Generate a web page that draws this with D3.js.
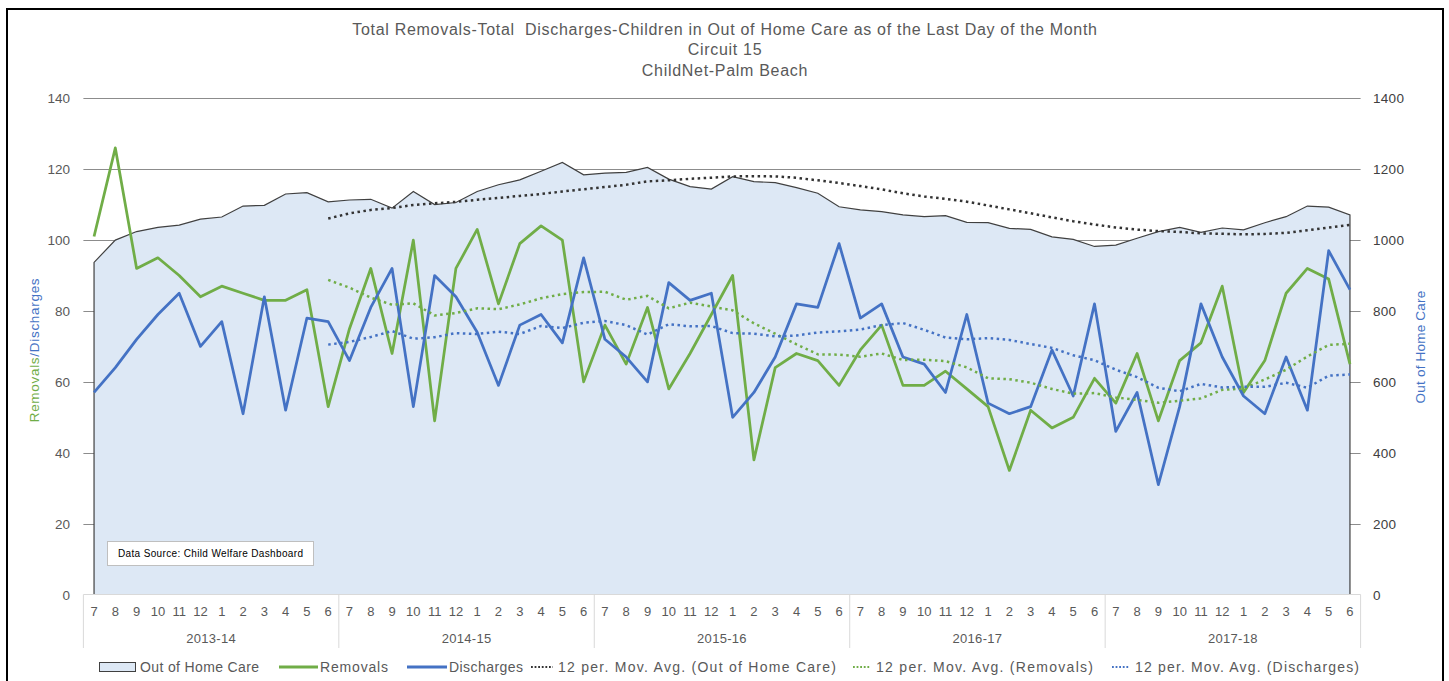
<!DOCTYPE html>
<html>
<head>
<meta charset="utf-8">
<script src="https://cdn.jsdelivr.net/npm/d3@7"></script>
<style>
  html, body { margin: 0; padding: 0; background: #ffffff; }
  svg { display: block; font-family: "Liberation Sans", Arial, sans-serif; }
  .title { white-space: pre; }
</style>
</head>
<body>
<svg id="chart" width="1449" height="681"></svg>
<script>
// Fiscal years and month labels for the category axis
const fiscalYears = ["2013-14", "2014-15", "2015-16", "2016-17", "2017-18"];
const monthLabels = ["7", "8", "9", "10", "11", "12", "1", "2", "3", "4", "5", "6"];

// Monthly totals, July 2013 through June 2018
const removals = [
  101, 126, 92, 95, 90, 84, 87, 85, 83, 83, 86, 53,
  75, 92, 68, 100, 49, 92, 103, 82, 99, 104, 100, 60,
  76, 65, 81, 58, 68, 79, 90, 38, 64, 68, 66, 59,
  69, 76, 59, 59, 63, 58, 53, 35, 52, 47, 50, 61,
  54, 68, 49, 66, 71, 87, 57, 66, 85, 92, 89, 65
];
const discharges = [
  57, 64, 72, 79, 85, 70, 77, 51, 84, 52, 78, 77,
  66, 81, 92, 53, 90, 84, 74, 59, 76, 79, 71, 95,
  72, 67, 60, 88, 83, 85, 50, 57, 67, 82, 81, 99,
  78, 82, 67, 65, 57, 79, 54, 51, 53, 69, 56, 82,
  46, 57, 31, 53, 82, 67, 56, 51, 67, 52, 97, 86
];
const outOfHomeCare = [
  937, 1000, 1024, 1036, 1042, 1059, 1065, 1096, 1098, 1130, 1134, 1108,
  1113, 1115, 1090, 1137, 1100, 1106, 1137, 1156, 1170, 1194, 1219, 1184,
  1189, 1191, 1205, 1172, 1151, 1144, 1179, 1165, 1162, 1148, 1132, 1094,
  1085, 1080, 1071, 1066, 1069, 1050, 1049, 1033, 1030, 1009, 1002, 982,
  986, 1005, 1024, 1036, 1022, 1034, 1029, 1049, 1066, 1096, 1093, 1071
];

// Axis ticks
const leftTicks = [0, 20, 40, 60, 80, 100, 120, 140];
const rightTicks = [0, 200, 400, 600, 800, 1000, 1200, 1400];

const titleLines = [
  "Total Removals-Total  Discharges-Children in Out of Home Care as of the Last Day of the Month",
  "Circuit 15",
  "ChildNet-Palm Beach"
];

const GREEN = "#70AD47", BLUE = "#4472C4", DARK = "#404040", TEXT = "#595959";
const AREA_FILL = "#DDE8F5";

// 12-period trailing moving average (null until a full window exists)
function movingAverage(values, period) {
  return values.map((v, i) => i < period - 1 ? null : d3.mean(values.slice(i - period + 1, i + 1)));
}

const svg = d3.select("#chart");

// Outer frame
svg.append("rect").attr("x", 7).attr("y", 9).attr("width", 1436).attr("height", 690)
  .attr("fill", "none").attr("stroke", "#000").attr("stroke-width", 2);

const plot = { left: 83.4, right: 1360.6, top: 98.3, bottom: 594.5 };
const n = removals.length;

const x = d3.scaleBand().domain(d3.range(n)).range([plot.left, plot.right]).paddingInner(0).paddingOuter(0);
const cx = i => x(i) + x.bandwidth() / 2;
const yL = d3.scaleLinear().domain([0, 140]).range([plot.bottom, plot.top]);
const yR = d3.scaleLinear().domain([0, 1400]).range([plot.bottom, plot.top]);

// Title
svg.append("g").selectAll("text").data(titleLines).join("text")
  .attr("class", "title")
  .attr("x", 725).attr("y", (d, i) => [35, 55, 76][i])
  .attr("text-anchor", "middle").attr("fill", TEXT).attr("font-size", 16)
  .attr("letter-spacing", 0.7)
  .text(d => d);

// Horizontal gridlines
svg.append("g").selectAll("line").data(leftTicks.filter(t => t > 0)).join("line")
  .attr("x1", plot.left).attr("x2", plot.right)
  .attr("y1", d => Math.round(yL(d)) + 0.5).attr("y2", d => Math.round(yL(d)) + 0.5)
  .attr("stroke", "#8C8C8C").attr("stroke-width", 1);

// Out of Home Care area (right axis)
const area = d3.area().x((d, i) => cx(i)).y0(yR(0)).y1(d => yR(d));
svg.append("path").datum(outOfHomeCare).attr("d", area).attr("fill", AREA_FILL);

// Area outline: both sides and the top edge
const outline = [[cx(0), yR(0)]].concat(outOfHomeCare.map((d, i) => [cx(i), yR(d)]), [[cx(n - 1), yR(0)]]);
svg.append("path").attr("d", d3.line()(outline))
  .attr("fill", "none").attr("stroke", DARK).attr("stroke-width", 1.2);

// Category axis line and year separators
svg.append("line").attr("x1", plot.left).attr("x2", plot.right)
  .attr("y1", plot.bottom).attr("y2", plot.bottom).attr("stroke", "#D9D9D9").attr("stroke-width", 1);
svg.append("g").selectAll("line").data(d3.range(fiscalYears.length + 1)).join("line")
  .attr("x1", k => k < fiscalYears.length ? x(k * 12) : plot.right)
  .attr("x2", k => k < fiscalYears.length ? x(k * 12) : plot.right)
  .attr("y1", plot.bottom).attr("y2", 648)
  .attr("stroke", "#D9D9D9").attr("stroke-width", 1);

// Month labels
svg.append("g").selectAll("text").data(d3.range(n)).join("text")
  .attr("x", i => cx(i)).attr("y", 616)
  .attr("text-anchor", "middle").attr("fill", TEXT).attr("font-size", 13)
  .text(i => monthLabels[i % 12]);

// Fiscal year labels
svg.append("g").selectAll("text").data(fiscalYears).join("text")
  .attr("x", (d, k) => (x(k * 12) + x(k * 12 + 11) + x.bandwidth()) / 2).attr("y", 643)
  .attr("text-anchor", "middle").attr("fill", TEXT).attr("font-size", 13)
  .attr("letter-spacing", 0.3)
  .text(d => d);

// Left axis labels
svg.append("g").selectAll("text").data(leftTicks).join("text")
  .attr("x", 70).attr("y", d => yL(d) + 5)
  .attr("text-anchor", "end").attr("fill", TEXT).attr("font-size", 13.5)
  .text(d => d);

// Right axis labels
svg.append("g").selectAll("text").data(rightTicks).join("text")
  .attr("x", 1373).attr("y", d => yR(d) + 5)
  .attr("text-anchor", "start").attr("fill", DARK).attr("font-size", 13.5)
  .attr("letter-spacing", 0.3)
  .text(d => d);

// Axis titles
const lt = svg.append("text").attr("transform", "translate(39,350) rotate(-90)")
  .attr("text-anchor", "middle").attr("font-size", 13.5).attr("letter-spacing", 0.7);
lt.append("tspan").attr("fill", GREEN).text("Removals");
lt.append("tspan").attr("fill", BLUE).text("/Discharges");

svg.append("text").attr("transform", "translate(1425,347) rotate(-90)")
  .attr("text-anchor", "middle").attr("font-size", 13.5).attr("fill", BLUE)
  .attr("letter-spacing", 0.2)
  .text("Out of Home Care");

// Series lines
const lineL = d3.line().x((d, i) => cx(i)).y(d => yL(d));
svg.append("path").datum(removals).attr("d", lineL)
  .attr("fill", "none").attr("stroke", GREEN).attr("stroke-width", 2.75).attr("stroke-linejoin", "round");
svg.append("path").datum(discharges).attr("d", lineL)
  .attr("fill", "none").attr("stroke", BLUE).attr("stroke-width", 2.75).attr("stroke-linejoin", "round");

// Moving average trendlines
const maLine = scale => d3.line().defined(d => d !== null).x((d, i) => cx(i)).y(d => scale(d));
const maStyle = [
  { values: movingAverage(outOfHomeCare, 12), scale: yR, color: "#333333" },
  { values: movingAverage(removals, 12), scale: yL, color: GREEN },
  { values: movingAverage(discharges, 12), scale: yL, color: BLUE }
];
maStyle.forEach(m => {
  svg.append("path").datum(m.values).attr("d", maLine(m.scale))
    .attr("fill", "none").attr("stroke", m.color).attr("stroke-width", 2.5)
    .attr("stroke-dasharray", "2.5 3.5");
});

// Data source note
svg.append("rect").attr("x", 107.5).attr("y", 541.5).attr("width", 206).attr("height", 24)
  .attr("fill", "#fff").attr("stroke", "#BFBFBF").attr("stroke-width", 1);
svg.append("text").attr("x", 118).attr("y", 557).attr("font-size", 10).attr("fill", "#000")
  .attr("textLength", 185).attr("lengthAdjust", "spacing")
  .text("Data Source: Child Welfare Dashboard");

// Legend
const legendY = 667;
const lg = svg.append("g");
lg.append("rect").attr("x", 99.5).attr("y", 662.5).attr("width", 36).attr("height", 9)
  .attr("fill", AREA_FILL).attr("stroke", DARK).attr("stroke-width", 1);
const legendItems = [
  { kind: "text", x: 140, w: 119, label: "Out of Home Care" },
  { kind: "line", x1: 279, x2: 318, color: GREEN },
  { kind: "text", x: 320, w: 68, label: "Removals" },
  { kind: "line", x1: 407, x2: 447, color: BLUE },
  { kind: "text", x: 449, w: 74, label: "Discharges" },
  { kind: "dots", x1: 531, x2: 553, color: "#333333" },
  { kind: "text", x: 558, w: 278, label: "12 per. Mov. Avg. (Out of Home Care)" },
  { kind: "dots", x1: 853, x2: 871, color: GREEN },
  { kind: "text", x: 876, w: 217, label: "12 per. Mov. Avg. (Removals)" },
  { kind: "dots", x1: 1112, x2: 1130, color: BLUE },
  { kind: "text", x: 1135, w: 224, label: "12 per. Mov. Avg. (Discharges)" }
];
legendItems.forEach(it => {
  if (it.kind === "text") {
    lg.append("text").attr("x", it.x).attr("y", legendY + 5).attr("font-size", 14).attr("fill", TEXT)
      .attr("textLength", it.w).attr("lengthAdjust", "spacing").text(it.label);
  } else if (it.kind === "line") {
    lg.append("line").attr("x1", it.x1).attr("x2", it.x2).attr("y1", legendY).attr("y2", legendY)
      .attr("stroke", it.color).attr("stroke-width", 3);
  } else {
    lg.append("line").attr("x1", it.x1).attr("x2", it.x2).attr("y1", legendY).attr("y2", legendY)
      .attr("stroke", it.color).attr("stroke-width", 2).attr("stroke-dasharray", "1.8 1.8");
  }
});
</script>
</body>
</html>
